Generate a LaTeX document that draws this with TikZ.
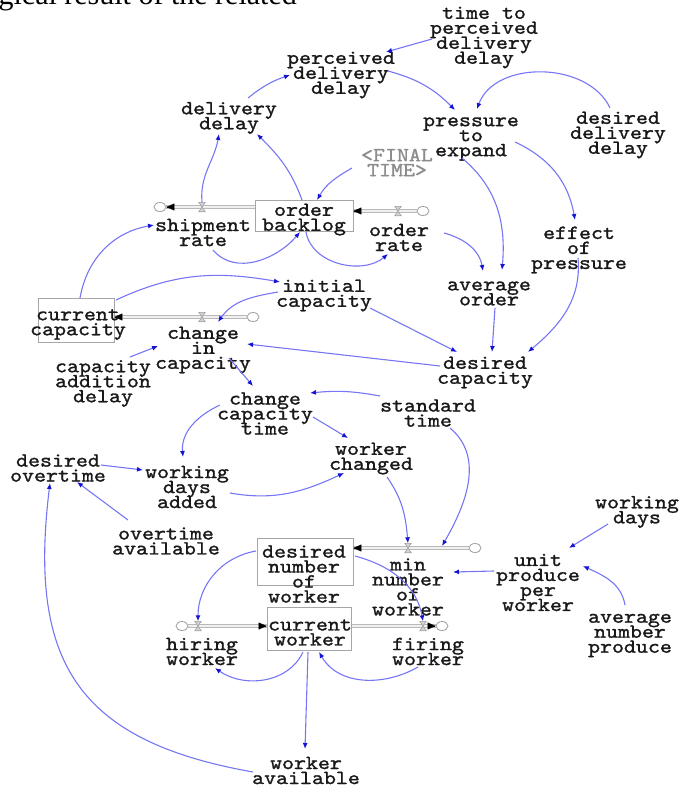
\documentclass[tikz,border=0pt]{standalone}
\usepackage{fontspec}
\usetikzlibrary{arrows.meta,shapes.geometric,calc}
\newfontfamily\vfont{lmmono10-regular.otf}[FakeStretch=1.14,FakeBold=1.3]
\newfontfamily\serifhead{Liberation Serif}
\newcommand\varfont{\vfont\fontsize{20}{15}\selectfont\lineskiplimit=-20pt\relax}
\definecolor{linkblue}{RGB}{118,118,245}
\definecolor{tipblue}{RGB}{20,20,210}
\definecolor{inkgray}{RGB}{25,25,25}
\definecolor{shadowgray}{RGB}{140,140,140}
\pgfdeclarelayer{pipes}
\pgfsetlayers{pipes,main}
% rate valve: a small bow-tie on the pipe
\newcommand\valvesym[3]{%
  \node[valvenode] (#1) at (#2,#3) {};
  \filldraw[valvedraw] (#1.north west) -- (#1.north east) -- (#1.south west) -- (#1.south east) -- cycle;}
\begin{document}
\begin{tikzpicture}[x=1pt,y=1pt,
  lbl/.style={font=\varfont, align=center, inner sep=0pt, text=inkgray},
  shadow/.style={lbl, text=shadowgray},
  stockbox/.style={draw=gray!70, line width=0.8pt, inner sep=0pt, rectangle},
  cloudnode/.style={ellipse, draw=gray!75, fill=white, minimum width=12pt, minimum height=9pt, inner sep=0pt, line width=0.8pt},
  valvenode/.style={rectangle, minimum width=6pt, minimum height=9pt, inner sep=0pt},
  valvedraw/.style={draw=gray!75, fill=gray!35, line width=0.6pt},
  pipe/.style={draw=gray!55, double=gray!12, double distance=1.6pt, line width=0.8pt},
  flowtip/.style={-{Triangle[length=8pt,width=7pt]}, black, line width=0.4pt},
  link/.style={draw=linkblue, line width=1.1pt, -{Latex[length=6pt,width=5pt,color=tipblue]}}]
\useasboundingbox (0,0) rectangle (679,-787);

% running text of the page above the figure
\node[anchor=base east, font=\serifhead\fontsize{30}{30}\selectfont, inner sep=0pt] (headline) at (297,-5) {logical result of the related};

% stocks
\node[stockbox, minimum width=98pt, minimum height=31pt] (obbox) at (304,-215.5) {};
\node[stockbox, minimum width=76pt, minimum height=44pt] (ccbox) at (76,-320) {};
\node[stockbox, minimum width=96pt, minimum height=47pt] (dnwbox) at (305,-561.5) {};
\node[stockbox, minimum width=84pt, minimum height=43pt] (cwbox) at (309,-628.5) {};

% sources and sinks
\node[cloudnode] (csr) at (160,-207) {};
\node[cloudnode] (cor) at (423,-211) {};
\node[cloudnode] (ccap) at (253,-317) {};
\node[cloudnode] (cdn) at (475,-548) {};
\node[cloudnode] (chw) at (182,-626) {};
\node[cloudnode] (cfw) at (442,-626) {};

% valves
\valvesym{vsr}{202}{-207}
\valvesym{vor}{398}{-211}
\valvesym{vcap}{202}{-317}
\valvesym{vdn}{408}{-548}
\valvesym{vhw}{198}{-626}
\valvesym{vfw}{423}{-626}

% pipes
\begin{pgfonlayer}{pipes}
\draw[pipe] (vsr -| obbox.west) -- (csr.east);
\draw[pipe] (cor.west) -- (vor -| obbox.east);
\draw[pipe] (ccap.west) -- (vcap -| ccbox.east);
\draw[pipe] (cdn.west) -- (vdn -| dnwbox.east);
\draw[pipe] (chw.east) -- (vhw -| cwbox.west);
\draw[pipe] (vfw -| cwbox.east) -- (cfw.west);
\end{pgfonlayer}
\draw[flowtip] ([xshift=1pt]csr.east) -- (csr.east);
\draw[flowtip] ([xshift=1pt]vor -| obbox.east) -- (vor -| obbox.east);
\draw[flowtip] ([xshift=1pt]vcap -| ccbox.east) -- (vcap -| ccbox.east);
\draw[flowtip] ([xshift=1pt]vdn -| dnwbox.east) -- (vdn -| dnwbox.east);
\draw[flowtip] ([xshift=-1pt]vhw -| cwbox.west) -- (vhw -| cwbox.west);
\draw[flowtip] ([xshift=-1pt]cfw.west) -- (cfw.west);

% variable names
\node[lbl] (tpdd) at (484,-37.5) {time to\\perceived\\delivery\\delay};
\node[lbl] (pdd) at (341,-75) {perceived\\delivery\\delay};
\node[lbl] (dd) at (229,-118) {delivery\\delay};
\node[lbl] (pte) at (471,-139) {pressure\\to\\expand};
\node[lbl] (ddd) at (618,-135) {desired\\delivery\\delay};
\node[shadow] (ft) at (397,-162.5) {<FINAL\\TIME>};
\node[lbl] (ob) at (304,-219.5) {order\\backlog};
\node[lbl] (orate) at (399,-237.5) {order\\rate};
\node[lbl] (srate) at (203,-232.5) {shipment\\rate};
\node[lbl] (cc) at (78,-324.5) {current\\capacity};
\node[lbl] (cic) at (203,-350) {change\\in\\capacity};
\node[lbl] (cad) at (103,-383.5) {capacity\\addition\\delay};
\node[lbl] (ic) at (324,-295.5) {initial\\capacity};
\node[lbl] (eop) at (579,-250) {effect\\of\\pressure};
\node[lbl] (ao) at (489,-293.5) {average\\order};
\node[lbl] (dc) at (485,-372.5) {desired\\capacity};
\node[lbl] (cct) at (265,-413.5) {change\\capacity\\time};
\node[lbl] (st) at (428,-413) {standard\\time};
\node[lbl] (wc) at (371,-458.5) {worker\\changed};
\node[lbl] (wda) at (187,-487) {working\\days\\added};
\node[lbl] (dot) at (58,-468) {desired\\overtime};
\node[lbl] (oa) at (166,-541) {overtime\\available};
\node[lbl] (dnw) at (304,-574) {desired\\number\\of\\worker};
\node[lbl] (mnw) at (408,-587) {min\\number\\of\\worker};
\node[lbl] (cw) at (310,-632.5) {current\\worker};
\node[lbl] (hw) at (202,-651.5) {hiring\\worker};
\node[lbl] (fw) at (428,-651.5) {firing\\worker};
\node[lbl] (wa) at (306,-770.5) {worker\\available};
\node[lbl] (wd) at (637,-512) {working\\days};
\node[lbl] (uppw) at (538,-582.5) {unit\\produce\\per\\worker};
\node[lbl] (anp) at (630,-635.5) {average\\number\\produce};

% causal links
\draw[link] ([shift={(-52,-1.5)}]tpdd.center) -- ([shift={(45,23)}]pdd.center);
\draw[link] ([shift={(19,20)}]dd.center) to[bend left=10] ([shift={(-51,0)}]pdd.center);
\draw[link] ([shift={(47,4)}]pdd.center) to[bend left=15] ([shift={(-16,29)}]pte.center);
\draw[link] ([shift={(-8,27)}]ddd.center) to[out=115,in=70] ([shift={(6,30)}]pte.center);
\draw[link] ([shift={(44,-3)}]pte.center) to[out=-25,in=100] ([shift={(-4,30)}]eop.center);
\draw[link] ([shift={(-9,-19)}]pte.center) to[out=-40,in=85] ([shift={(13,23.5)}]ao.center);
\draw[link] ([shift={(45,4.5)}]orate.center) to[out=-15,in=100] ([shift={(-6,22.5)}]ao.center);
\draw[link] ([shift={(6,-14.5)}]ao.center) -- ([shift={(7,20.5)}]dc.center);
\draw[link] ([shift={(-1,-8)}]eop.center) to[out=-85,in=40] ([shift={(43,20.5)}]dc.center);
\draw[link] ([shift={(46,-12.5)}]ic.center) -- ([shift={(-28,20.5)}]dc.center);
\draw[link] ([shift={(-45,6.5)}]dc.center) -- ([shift={(44,6)}]cic.center);
\draw[link] ([shift={(-46,3.5)}]ic.center) to[out=190,in=55] ([shift={(15,28)}]cic.center);
\draw[link] ([shift={(40,20)}]ccbox.center) to[out=25,in=170] ([shift={(-44,13.5)}]ic.center);
\draw[link] ([shift={(4,22)}]ccbox.center) to[out=80,in=190] ([shift={(-49,7.5)}]srate.center);
\draw[link] ([shift={(27,26.5)}]cad.center) -- ([shift={(-45,4)}]cic.center);
\draw[link] ([shift={(26,-8)}]cic.center) -- ([shift={(-12,27.5)}]cct.center);
\draw[link] ([shift={(-48,17)}]st.center) to[bend right=8] ([shift={(45,20.5)}]cct.center);
\draw[link] ([shift={(-45,8.5)}]cct.center) to[out=205,in=95] ([shift={(-4,30)}]wda.center);
\draw[link] ([shift={(48,-3.5)}]cct.center) -- ([shift={(-23,20.5)}]wc.center);
\draw[link] ([shift={(43,-6)}]wda.center) to[out=-10,in=205] ([shift={(-27,-14.5)}]wc.center);
\draw[link] ([shift={(43,3)}]dot.center) -- ([shift={(-44,17)}]wda.center);
\draw[link] ([shift={(-38,21)}]oa.center) -- ([shift={(19,-14)}]dot.center);
\draw[link] ([shift={(-53,-1.5)}]wa.center) to[out=170,in=-97,looseness=1.3] ([shift={(-8,-15)}]dot.center);
\draw[link] ([shift={(16,-18.5)}]wc.center) to[out=-55,in=95] (vdn.north);
\draw[link] ([shift={(22,-15)}]st.center) to[out=-40,in=60] ([shift={(34,2)}]vdn.center);
\draw[link] ([shift={(-44,11.5)}]uppw.center) -- ([shift={(45,15)}]mnw.center);
\draw[link] ([shift={(-29,-12)}]wd.center) -- ([shift={(31,34.5)}]uppw.center);
\draw[link] ([shift={(-5,30.5)}]anp.center) to[out=100,in=-25] ([shift={(45,16.5)}]uppw.center);
\draw[link] ([shift={(-49,10.5)}]dnwbox.center) to[out=190,in=90] (vhw.north);
\draw[link] ([shift={(50,5.5)}]dnwbox.center) to[out=-15,in=100] (vfw.north);
\draw[link] ([shift={(-6,-23.5)}]cwbox.center) to[out=-115,in=-35] ([shift={(13,-16.5)}]hw.center);
\draw[link] ([shift={(-10,-15.5)}]fw.center) to[out=-150,in=-60] ([shift={(10,-23.5)}]cwbox.center);
\draw[link] ([shift={(-1,-23.5)}]cwbox.center) -- ([shift={(-1,21.5)}]wa.center);
\draw[link] ([shift={(10,-17.5)}]srate.center) to[out=-50,in=-130] ([shift={(-4,-16.5)}]obbox.center);
\draw[link] ([shift={(2,-16.5)}]obbox.center) to[out=-80,in=-140] ([shift={(-11,-16.5)}]orate.center);
\draw[link] ([shift={(-2,15.5)}]obbox.center) to[out=110,in=-45] ([shift={(28,-16)}]dd.center);
\draw[link] (vsr.north) to[out=95,in=-100] ([shift={(-10,-16)}]dd.center);
\draw[link] ([shift={(-45,-5.5)}]ft.center) to[out=-150,in=60] ([shift={(13,15.5)}]obbox.center);
\end{tikzpicture}
\end{document}
